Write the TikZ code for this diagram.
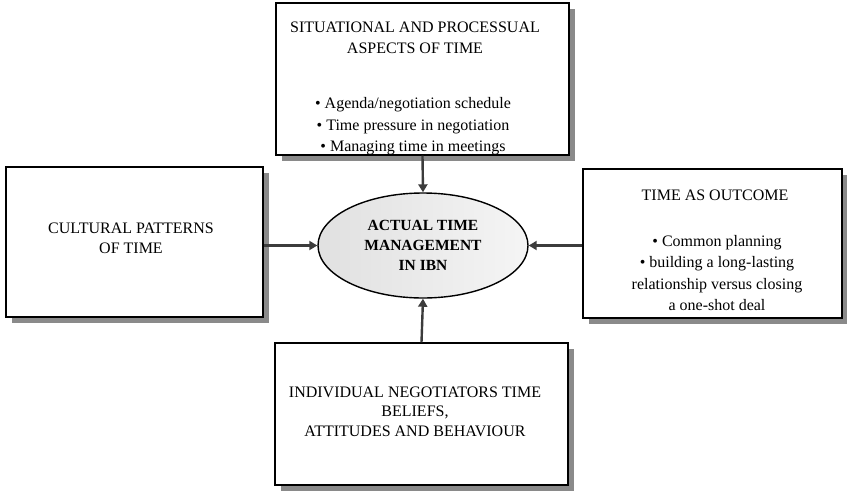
\documentclass[tikz,border=0pt]{standalone}
\usepackage{fontspec}
\setmainfont{Liberation Serif}
\usetikzlibrary{arrows.meta,shapes.geometric,shadows}
\definecolor{arrc}{HTML}{3C3C3C}
\definecolor{shadc}{HTML}{8A8A8A}
\begin{document}
\begin{tikzpicture}[x=1pt,y=-1pt,
  box/.style={draw=black,line width=1.4pt,fill=white,inner sep=0pt,
    drop shadow={shadow xshift=6pt,shadow yshift=-6pt,fill=shadc,opacity=1}},
  txt/.style={align=center,inner sep=0pt,font=\fontsize{16}{21.5}\selectfont},
  txtb/.style={align=center,inner sep=0pt,font=\fontsize{16}{19.6}\selectfont},
  arr/.style={draw=arrc,line width=2.4pt,-{Triangle[length=8pt,width=9pt]}}]
\useasboundingbox (0,0) rectangle (847,496);
% boxes
\node[box,minimum width=293pt,minimum height=152pt] (top) at (422.5,79) {};
\node[box,minimum width=257pt,minimum height=150pt] (left) at (134.5,242) {};
\node[box,minimum width=259pt,minimum height=149pt] (right) at (712.5,243.5) {};
\node[box,minimum width=293pt,minimum height=142pt] (bot) at (421.5,414) {};
% ellipse
\node[ellipse,draw=black,line width=1.4pt,minimum width=210pt,minimum height=105pt,
  inner sep=0pt,left color=gray!24,right color=gray!8,
  align=center,font=\fontsize{15.5}{20}\selectfont\bfseries] (ell) at (423,245.5)
  {ACTUAL TIME\\MANAGEMENT\\IN IBN};
% texts
\node[txt] (toptitle) at (415,38) {SITUATIONAL AND PROCESSUAL\\ASPECTS OF TIME};
\node[txt] (topbul) at (413,126.5) {• Agenda/negotiation schedule\\• Time pressure in negotiation\\• Managing time in meetings};
\node[txtb] (lefttxt) at (131,238) {CULTURAL PATTERNS\\OF TIME};
\node[txt] (righttitle) at (715,195) {TIME AS OUTCOME};
\node[txt] (rightbul) at (717,273) {• Common planning\\• building a long-lasting\\relationship versus closing\\a one-shot deal};
\node[txtb] (bottxt) at (415,411.5) {INDIVIDUAL NEGOTIATORS TIME\\BELIEFS,\\ATTITUDES AND BEHAVIOUR};
% arrows
\draw[arr] (top.south) -- (ell.north);
\draw[arr] (bot.north) -- (ell.south);
\draw[arr] (ell.west -| left.east) -- (ell.west);
\draw[arr] (ell.east -| right.west) -- (ell.east);
\end{tikzpicture}
\end{document}
